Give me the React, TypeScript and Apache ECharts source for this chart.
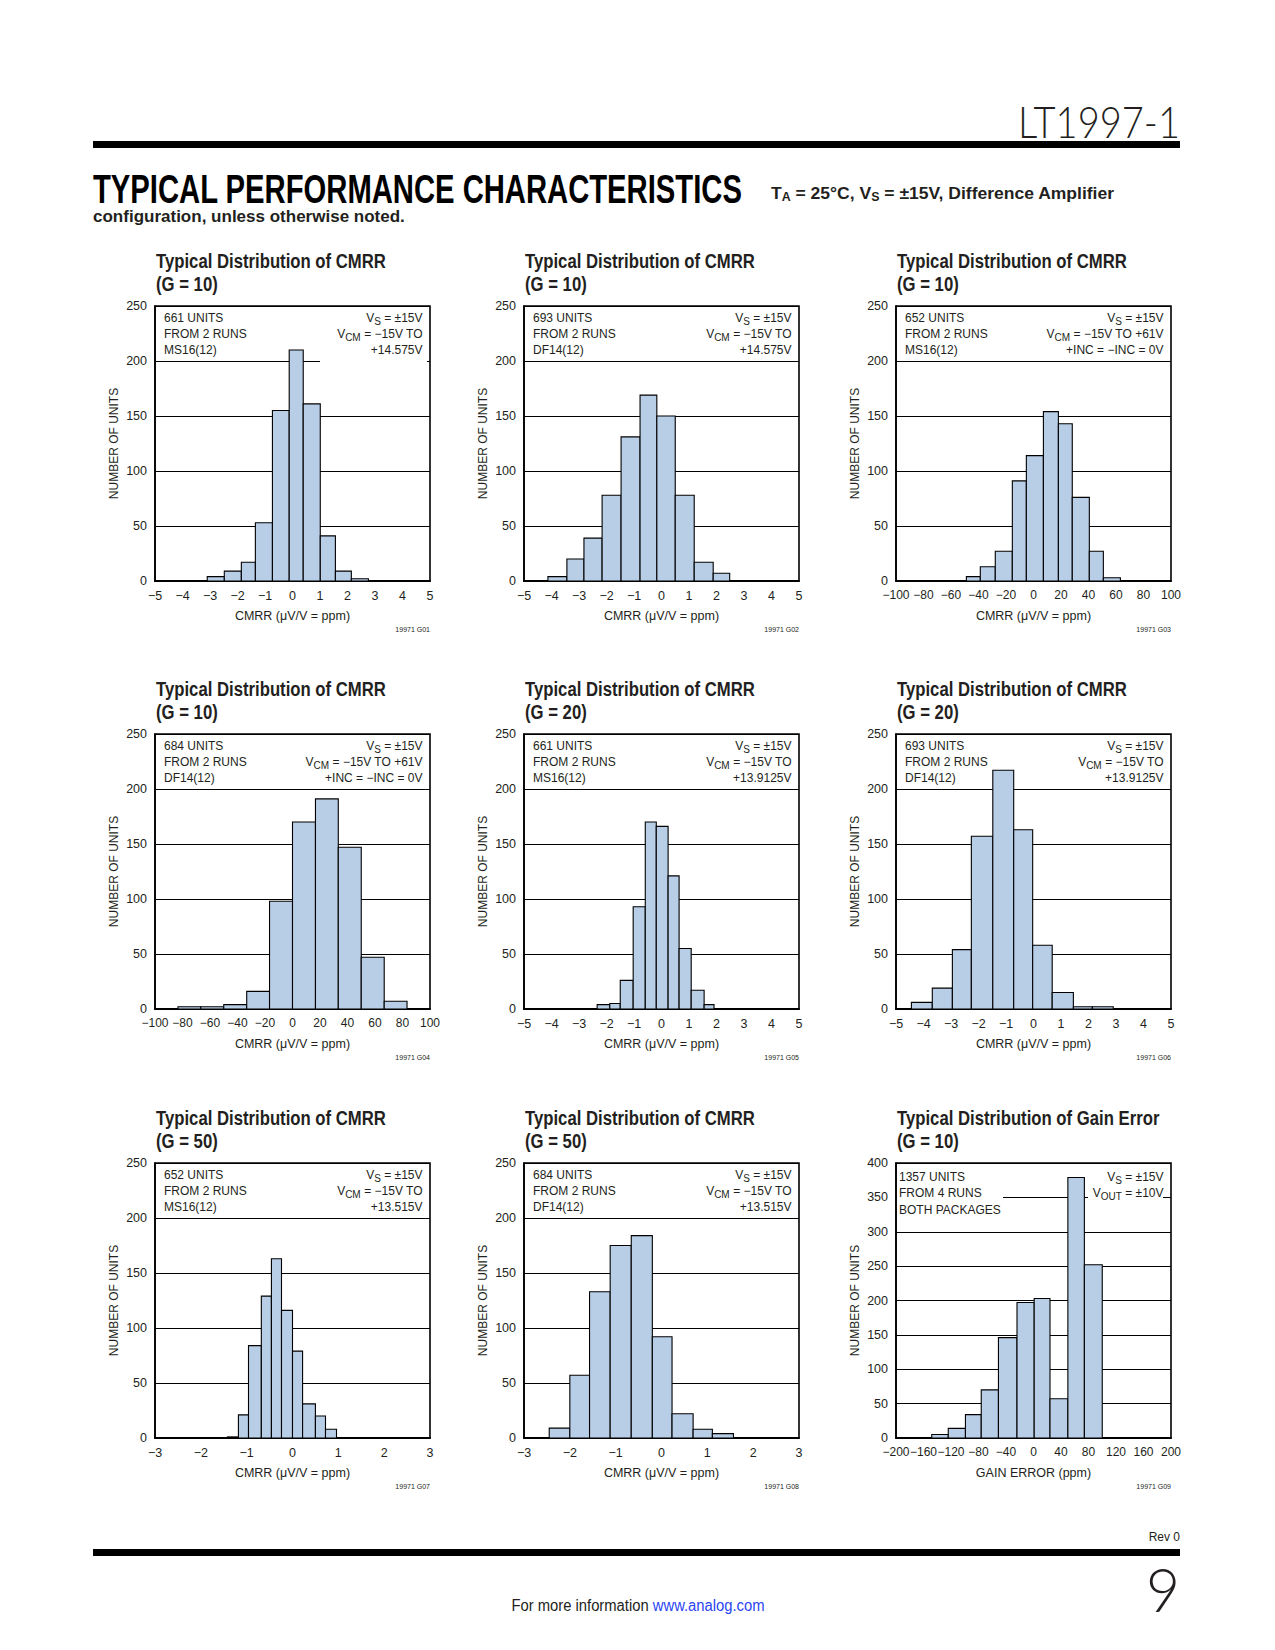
import React, { useEffect, useRef } from 'react';
import * as echarts from 'echarts';

// ---------------- data ----------------
// bin edges (x) and counts (number of units) for each histogram
const g01Edges = [-3.1, -2.48, -1.86, -1.35, -0.73, -0.12, 0.39, 1.01, 1.56, 2.14, 2.76];
const g01Counts = [4, 9, 17, 53, 155, 210, 161, 41, 9, 2];

const g02Edges = [-4.13, -3.44, -2.82, -2.16, -1.47, -0.78, -0.17, 0.5, 1.19, 1.88, 2.48];
const g02Counts = [4, 20, 39, 78, 131, 169, 150, 78, 17, 7];

const g03Edges = [-48.8, -38.7, -27.8, -15.4, -5.2, 7.2, 18.1, 28.2, 40.6, 50.8, 63.2];
const g03Counts = [4, 13, 27, 91, 114, 154, 143, 76, 27, 3];

const g04Edges = [-83.3, -66.7, -50, -33.3, -16.7, 0, 16.7, 33.3, 50, 66.7, 83.3];
const g04Counts = [2, 2, 4, 16, 98, 170, 191, 147, 47, 7];

const g05Edges = [-2.34, -1.88, -1.5, -1.03, -0.59, -0.19, 0.24, 0.64, 1.08, 1.55, 1.91];
const g05Counts = [4, 5, 26, 93, 170, 166, 121, 55, 17, 4];

const g06Edges = [-4.44, -3.68, -2.95, -2.26, -1.48, -0.72, -0.03, 0.68, 1.45, 2.14, 2.9];
const g06Counts = [6, 19, 54, 157, 217, 163, 58, 15, 2, 2];

const g07Edges = [-1.42, -1.18, -0.96, -0.68, -0.46, -0.24, 0, 0.22, 0.5, 0.72, 0.96];
const g07Counts = [1, 21, 84, 129, 163, 116, 79, 31, 20, 8];

const g08Edges = [-2.45, -2.0, -1.57, -1.12, -0.66, -0.2, 0.23, 0.69, 1.11, 1.57];
const g08Counts = [9, 57, 133, 175, 184, 92, 22, 8, 4];

const g09Edges = [-148, -124, -99, -76, -51, -24, 1, 24, 50, 74, 100];
const g09Counts = [5, 14, 34, 70, 146, 197, 203, 57, 379, 252];

// axis ranges: [min, max, interval]
const xRangeCmrr5 = [-5, 5, 1];
const xRangeCmrr100 = [-100, 100, 20];
const xRangeCmrr3 = [-3, 3, 1];
const xRangeGain = [-200, 200, 40];
const yRangeUnits = [0, 250, 50];
const yRangeGain = [0, 400, 50];

// texts
const TITLE_CMRR = 'Typical Distribution of CMRR';
const TITLE_GAIN = 'Typical Distribution of Gain Error';
const X_NAME_CMRR = 'CMRR (μV/V = ppm)';
const X_NAME_GAIN = 'GAIN ERROR (ppm)';
const Y_NAME = 'NUMBER OF UNITS';
const NOTE_VS = '{n|V}{s|S}{n| = ±15V}';
const NOTE_VCM_TO = '{n|V}{s|CM}{n| = −15V TO}';
const NOTE_VCM_61 = '{n|V}{s|CM}{n| = −15V TO +61V}';
const NOTE_INC = '{n|+INC = −INC = 0V}';
const NOTE_VOUT = '{n|V}{s|OUT}{n| = ±10V}';

type Panel = {
  title: string;
  gain: string;
  edges: number[];
  counts: number[];
  xRange: number[];
  yRange: number[];
  left: string[];
  right: string[];
  xName: string;
  code: string;
  xLabelSize: number;
  masks?: number[][];
  tight?: boolean;
};

const PANELS: Panel[] = [
  { title: TITLE_CMRR, gain: '(G = 10)', edges: g01Edges, counts: g01Counts, xRange: xRangeCmrr5, yRange: yRangeUnits,
    left: ['661 UNITS', 'FROM 2 RUNS', 'MS16(12)'], right: [NOTE_VS, NOTE_VCM_TO, '{n|+14.575V}'], xName: X_NAME_CMRR, code: '19971 G01', xLabelSize: 12.5,
    masks: [[165, 48, 107, 14]] },
  { title: TITLE_CMRR, gain: '(G = 10)', edges: g02Edges, counts: g02Counts, xRange: xRangeCmrr5, yRange: yRangeUnits,
    left: ['693 UNITS', 'FROM 2 RUNS', 'DF14(12)'], right: [NOTE_VS, NOTE_VCM_TO, '{n|+14.575V}'], xName: X_NAME_CMRR, code: '19971 G02', xLabelSize: 12.5 },
  { title: TITLE_CMRR, gain: '(G = 10)', edges: g03Edges, counts: g03Counts, xRange: xRangeCmrr100, yRange: yRangeUnits,
    left: ['652 UNITS', 'FROM 2 RUNS', 'MS16(12)'], right: [NOTE_VS, NOTE_VCM_61, NOTE_INC], xName: X_NAME_CMRR, code: '19971 G03', xLabelSize: 12 },
  { title: TITLE_CMRR, gain: '(G = 10)', edges: g04Edges, counts: g04Counts, xRange: xRangeCmrr100, yRange: yRangeUnits,
    left: ['684 UNITS', 'FROM 2 RUNS', 'DF14(12)'], right: [NOTE_VS, NOTE_VCM_61, NOTE_INC], xName: X_NAME_CMRR, code: '19971 G04', xLabelSize: 12 },
  { title: TITLE_CMRR, gain: '(G = 20)', edges: g05Edges, counts: g05Counts, xRange: xRangeCmrr5, yRange: yRangeUnits,
    left: ['661 UNITS', 'FROM 2 RUNS', 'MS16(12)'], right: [NOTE_VS, NOTE_VCM_TO, '{n|+13.9125V}'], xName: X_NAME_CMRR, code: '19971 G05', xLabelSize: 12.5 },
  { title: TITLE_CMRR, gain: '(G = 20)', edges: g06Edges, counts: g06Counts, xRange: xRangeCmrr5, yRange: yRangeUnits,
    left: ['693 UNITS', 'FROM 2 RUNS', 'DF14(12)'], right: [NOTE_VS, NOTE_VCM_TO, '{n|+13.9125V}'], xName: X_NAME_CMRR, code: '19971 G06', xLabelSize: 12.5 },
  { title: TITLE_CMRR, gain: '(G = 50)', edges: g07Edges, counts: g07Counts, xRange: xRangeCmrr3, yRange: yRangeUnits,
    left: ['652 UNITS', 'FROM 2 RUNS', 'MS16(12)'], right: [NOTE_VS, NOTE_VCM_TO, '{n|+13.515V}'], xName: X_NAME_CMRR, code: '19971 G07', xLabelSize: 12.5 },
  { title: TITLE_CMRR, gain: '(G = 50)', edges: g08Edges, counts: g08Counts, xRange: xRangeCmrr3, yRange: yRangeUnits,
    left: ['684 UNITS', 'FROM 2 RUNS', 'DF14(12)'], right: [NOTE_VS, NOTE_VCM_TO, '{n|+13.515V}'], xName: X_NAME_CMRR, code: '19971 G08', xLabelSize: 12.5 },
  { title: TITLE_GAIN, gain: '(G = 10)', edges: g09Edges, counts: g09Counts, xRange: xRangeGain, yRange: yRangeGain,
    left: ['1357 UNITS', 'FROM 4 RUNS', 'BOTH PACKAGES'], right: [NOTE_VS, NOTE_VOUT], xName: X_NAME_GAIN, code: '19971 G09', xLabelSize: 12,
    masks: [[1, 29, 106, 11], [192, 29, 75, 11]], tight: true },
];

// ---------------- layout / style ----------------
const FF = "'Liberation Sans', Arimo, Arial, Helvetica, sans-serif";
const FF_LIGHT = "Lato, 'Liberation Sans', Arial, sans-serif";
const INK = '#231f20';
const BAR_FILL = '#b8cde6';
const COL_X = [155, 524, 896];
const ROW_Y = [306, 734, 1163];
const PW = 275;
const PH = 275;

const measure = (text: string, font: string): number => {
  const ctx = document.createElement('canvas').getContext('2d');
  if (!ctx) return text.length * 10;
  ctx.font = font;
  return ctx.measureText(text).width;
};

const minusFmt = (v: number) => (v < 0 ? '\u2212' + String(Math.abs(v)) : String(v));

const renderBin = (_params: any, api: any) => {
  const x0 = api.value(0);
  const x1 = api.value(1);
  const y = api.value(2);
  const p0 = api.coord([x0, 0]);
  const p1 = api.coord([x1, y]);
  return {
    type: 'rect',
    shape: { x: p0[0], y: p1[1], width: p1[0] - p0[0], height: p0[1] - p1[1] },
    style: { fill: BAR_FILL, stroke: '#000', lineWidth: 1.1 },
  };
};

const RICH = {
  n: { fontFamily: FF, fontSize: 12, lineHeight: 17, verticalAlign: 'middle', fill: INK },
  s: { fontFamily: FF, fontSize: 10, lineHeight: 17, verticalAlign: 'bottom', fill: INK },
};

function buildOption() {
  const grid: any[] = [];
  const xAxis: any[] = [];
  const yAxis: any[] = [];
  const series: any[] = [];
  const graphic: any[] = [];

  const titleFont = `bold 21px 'Liberation Sans', Arial, sans-serif`;
  const titleScale = 230 / measure(TITLE_CMRR, titleFont);

  PANELS.forEach((p, i) => {
    const col = i % 3;
    const row = Math.floor(i / 3);
    const L = COL_X[col];
    const T = ROW_Y[row];
    const [xMin, xMax, xStep] = p.xRange;
    const [yMin, yMax, yStep] = p.yRange;

    grid.push({ left: L, top: T, width: PW, height: PH, show: true, borderColor: '#000', borderWidth: 1.6, backgroundColor: 'rgba(0,0,0,0)' });

    xAxis.push({
      type: 'value', gridIndex: i, min: xMin, max: xMax, interval: xStep,
      name: p.xName, nameLocation: 'middle', nameGap: 28,
      nameTextStyle: { fontFamily: FF, fontSize: 12.5, color: INK },
      axisLine: { show: true, onZero: false, lineStyle: { color: '#000', width: 1.8 } },
      axisTick: { show: false },
      splitLine: { show: false },
      axisLabel: { margin: 8, fontFamily: FF, fontSize: p.xLabelSize, color: INK, formatter: minusFmt },
    });
    yAxis.push({
      type: 'value', gridIndex: i, min: yMin, max: yMax, interval: yStep,
      name: Y_NAME, nameLocation: 'middle', nameGap: 35, nameRotate: 90,
      nameTextStyle: { fontFamily: FF, fontSize: 12, color: INK },
      axisLine: { show: true, onZero: false, lineStyle: { color: '#000', width: 1.6 } },
      axisTick: { show: false },
      splitLine: { show: true, lineStyle: { color: '#000', width: 1 } },
      axisLabel: { margin: 8, fontFamily: FF, fontSize: 12.5, color: INK },
    });
    series.push({
      type: 'custom', xAxisIndex: i, yAxisIndex: i, z: 2,
      data: p.counts.map((c, k) => [p.edges[k], p.edges[k + 1], c]),
      encode: { x: [0, 1], y: 2 },
      renderItem: renderBin,
    });

    // titles
    graphic.push({
      type: 'text', x: L + 1, y: T - 45, scaleX: titleScale, z: 10,
      style: { text: p.title, fontFamily: FF, fontWeight: 'bold', fontSize: 21, fill: INK, align: 'left', verticalAlign: 'middle' },
    });
    graphic.push({
      type: 'text', x: L + 1, y: T - 22, scaleX: titleScale, z: 10,
      style: { text: p.gain, fontFamily: FF, fontWeight: 'bold', fontSize: 21, fill: INK, align: 'left', verticalAlign: 'middle' },
    });

    // masks (white boxes behind notes)
    (p.masks || []).forEach((m) => {
      graphic.push({ type: 'rect', x: L + m[0], y: T + m[1], shape: { x: 0, y: 0, width: m[2], height: m[3] }, z: 1, style: { fill: '#fff' } });
    });

    // notes
    const ys = p.tight ? [14, 30, 47] : [12, 28, 44];
    const lx = p.tight ? 3 : 9;
    p.left.forEach((t, k) => {
      graphic.push({
        type: 'text', x: L + lx, y: T + ys[k], z: 10,
        style: { text: t, fontFamily: FF, fontSize: 12, fill: INK, align: 'left', verticalAlign: 'middle' },
      });
    });
    p.right.forEach((t, k) => {
      graphic.push({
        type: 'text', x: L + PW - 7.5, y: T + ys[k], z: 10,
        style: { text: t, rich: RICH, fontFamily: FF, fontSize: 12, fill: INK, align: 'right', verticalAlign: 'middle' },
      });
    });

    // figure code
    graphic.push({
      type: 'text', x: L + PW, y: T + PH + 48, z: 10,
      style: { text: p.code, fontFamily: FF, fontSize: 7, fill: INK, align: 'right', verticalAlign: 'middle' },
    });
  });

  // ---------- page header ----------
  const ltFont = `300 44px Lato, 'Liberation Sans', Arial, sans-serif`;
  graphic.push({
    type: 'text', x: 1180, y: 121, z: 10, scaleX: 162 / measure('LT1997-1', ltFont),
    style: { text: 'LT1997-1', fontFamily: FF_LIGHT, fontWeight: 300, fontSize: 44, fill: INK, align: 'right', verticalAlign: 'middle' },
  });
  graphic.push({ type: 'rect', z: 10, shape: { x: 93, y: 141, width: 1087, height: 7 }, style: { fill: '#000' } });

  const hdrFont = `bold 40px 'Liberation Sans', Arial, sans-serif`;
  graphic.push({
    type: 'text', x: 93, y: 189, z: 10, scaleX: 650 / measure('TYPICAL PERFORMANCE CHARACTERISTICS', hdrFont),
    style: { text: 'TYPICAL PERFORMANCE CHARACTERISTICS', fontFamily: FF, fontWeight: 'bold', fontSize: 40, fill: '#000', align: 'left', verticalAlign: 'middle' },
  });
  const condFont = `bold 17px 'Liberation Sans', Arial, sans-serif`;
  const condSmall = `bold 12px 'Liberation Sans', Arial, sans-serif`;
  const taW = measure('T = 25°C, V = ±15V, Difference Amplifier', condFont) + measure('AS', condSmall);
  graphic.push({
    type: 'text', x: 771, y: 193, z: 10, scaleX: 344 / taW,
    style: {
      text: '{b|T}{bs|A}{b| = 25°C, V}{bs|S}{b| = ±15V, Difference Amplifier}',
      rich: {
        b: { fontFamily: FF, fontWeight: 'bold', fontSize: 17, lineHeight: 20, verticalAlign: 'middle', fill: INK },
        bs: { fontFamily: FF, fontWeight: 'bold', fontSize: 12, lineHeight: 20, verticalAlign: 'bottom', fill: INK },
      },
      align: 'left', verticalAlign: 'middle',
    },
  });
  graphic.push({
    type: 'text', x: 93, y: 217, z: 10, scaleX: 312 / measure('configuration, unless otherwise noted.', condFont),
    style: { text: 'configuration, unless otherwise noted.', fontFamily: FF, fontWeight: 'bold', fontSize: 17, fill: INK, align: 'left', verticalAlign: 'middle' },
  });

  // ---------- page footer ----------
  graphic.push({
    type: 'text', x: 1180, y: 1537, z: 10,
    style: { text: 'Rev 0', fontFamily: FF, fontSize: 12, fill: INK, align: 'right', verticalAlign: 'middle' },
  });
  graphic.push({ type: 'rect', z: 10, shape: { x: 93, y: 1549, width: 1087, height: 7 }, style: { fill: '#000' } });
  const nineFont = `300 62px Lato, 'Liberation Sans', Arial, sans-serif`;
  graphic.push({
    type: 'text', x: 1180, y: 1588, z: 10, scaleX: 34 / measure('9', nineFont),
    style: { text: '9', fontFamily: FF_LIGHT, fontWeight: 300, fontSize: 62, fill: INK, align: 'right', verticalAlign: 'middle' },
  });
  const footFont = `16px 'Liberation Sans', Arial, sans-serif`;
  graphic.push({
    type: 'text', x: 638, y: 1605, z: 10, scaleX: 253 / measure('For more information www.analog.com', footFont),
    style: {
      text: '{a|For more information }{b|www.analog.com}',
      rich: {
        a: { fontFamily: FF, fontSize: 16, fill: INK },
        b: { fontFamily: FF, fontSize: 16, fill: '#2a45f2' },
      },
      align: 'center', verticalAlign: 'middle',
    },
  });

  return {
    animation: false,
    backgroundColor: '#fff',
    grid,
    xAxis,
    yAxis,
    series,
    graphic: { elements: graphic },
  };
}

export default function App() {
  const ref = useRef<HTMLDivElement>(null);
  useEffect(() => {
    if (!ref.current) return;
    const chart = echarts.init(ref.current, undefined, { renderer: 'svg' });
    chart.setOption(buildOption() as any);
    return () => chart.dispose();
  }, []);
  return (
    <div
      ref={ref}
      style={{ position: 'absolute', left: 0, top: 0, width: 1275, height: 1650, background: '#fff' }}
    />
  );
}
